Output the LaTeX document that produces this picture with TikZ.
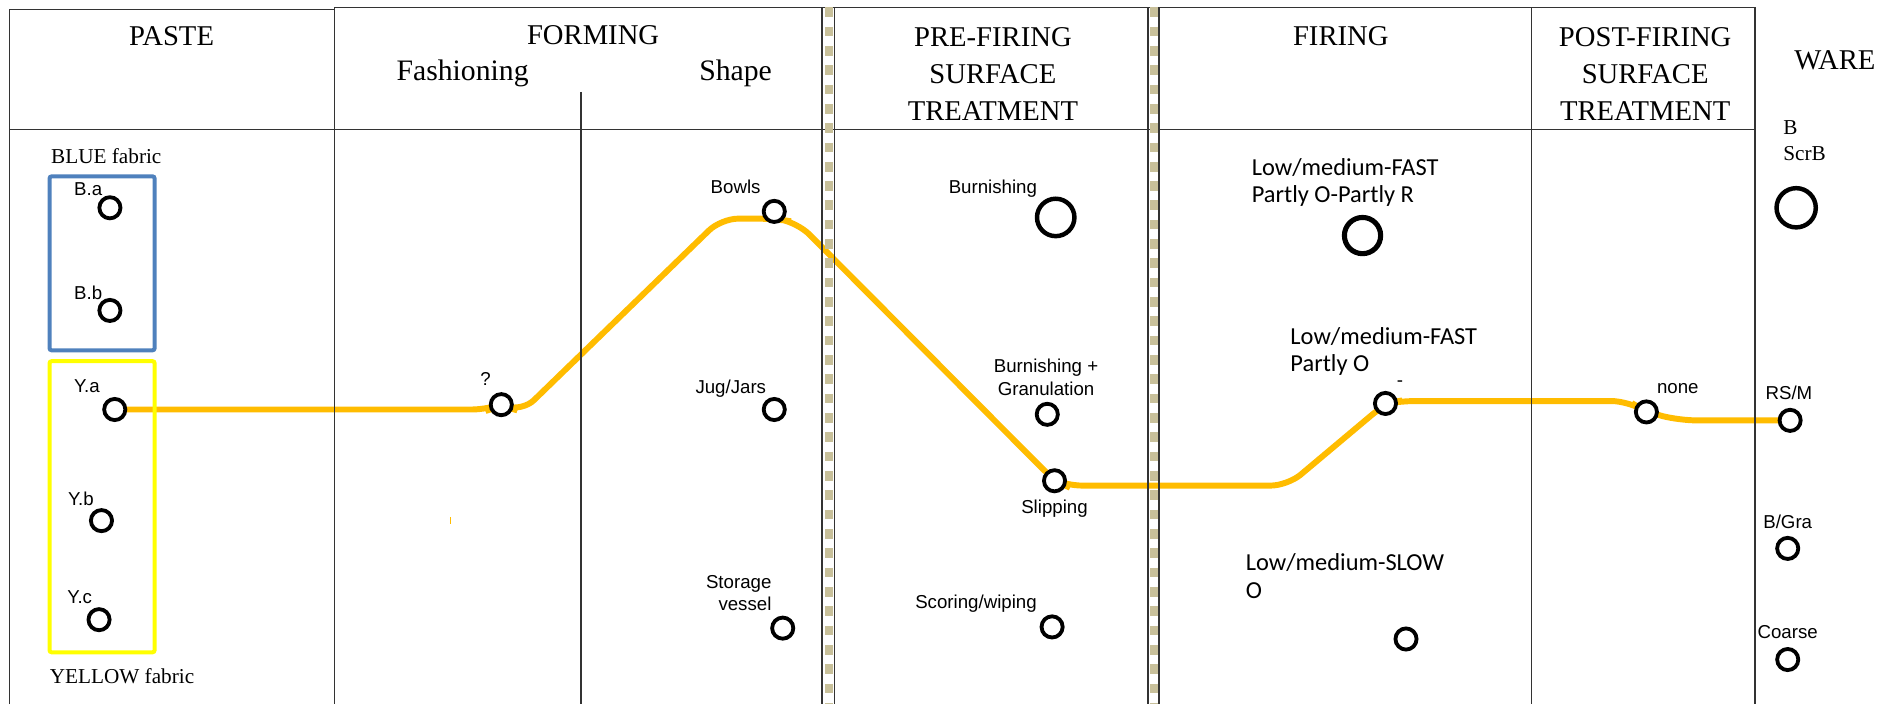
\documentclass[tikz,border=0pt]{standalone}
\usepackage{fontspec}
\setmainfont{Liberation Serif}
\newfontfamily\arialf{Liberation Sans}
\newfontfamily\calif{Carlito}
\definecolor{trackgold}{HTML}{FFBC00}
\definecolor{fabblue}{HTML}{4F81BD}
\definecolor{fabyellow}{HTML}{FFFF00}
\definecolor{sepkhaki}{HTML}{C8C09A}
\pgfdeclarelayer{tracklayer}
\pgfdeclarelayer{gridlayer}
\pgfsetlayers{tracklayer,gridlayer,main}
\tikzset{
  hdr/.style={font=\fontsize{13.5}{17.4}\selectfont, align=center, inner sep=0},
  sub/.style={font=\fontsize{14}{17}\selectfont, inner sep=0},
  lbl/.style={font=\arialf\fontsize{8.8}{10.8}\selectfont, align=center, inner sep=0},
  cal/.style={font=\calif\fontsize{11.5}{13}\selectfont, align=left, inner sep=0, anchor=west},
  tms/.style={font=\fontsize{10}{12}\selectfont, inner sep=0},
  stop/.style={circle, draw=black, fill=white, line width=1.8pt, minimum size=0.35cm, inner sep=0},
  bigstop/.style={stop, minimum size=0.62cm, line width=2.1pt},
  track/.style={draw=trackgold, line width=2.8pt, rounded corners=8pt},
  rule/.style={draw=black!80, line width=0.6pt},
  sepdash/.style={draw=sepkhaki, line width=3.7pt, dash pattern=on 0.16cm off 0.16cm},
  fabric/.style={line width=1.9pt, rounded corners=1pt}
}
\begin{document}
\begin{tikzpicture}[x=0.02cm, y=-0.02cm]
\useasboundingbox (0,0) rectangle (1568,583);

% ---------- table frame ----------
\begin{pgfonlayer}{gridlayer}
  \draw[rule] (8,583) -- (8,8) -- (277,8);
  \draw[rule] (277,6) -- (1453,6);
  \draw[rule] (8,107) -- (1453,107);
  \draw[rule] (277,6) -- (277,583);
  \draw[rule] (481,76) -- (481,583);
  \draw[rule] (1268,6) -- (1268,583);
  \draw[rule] (1453,6) -- (1453,583);
  % dashed double separators
  \draw[rule] (680.5,6) -- (680.5,583);
  \draw[rule] (691,6) -- (691,583);
  \draw[sepdash] (686,6) -- (686,583);
  \draw[rule] (950.5,6) -- (950.5,583);
  \draw[rule] (959.5,6) -- (959.5,583);
  \draw[sepdash] (955.5,6) -- (955.5,583);
\end{pgfonlayer}

% ---------- headers ----------
\node[hdr] (hPaste) at (142,30) {PASTE};
\node[hdr] (hForm) at (491,29) {FORMING};
\node[sub] (hFash) at (383,61) {Fashioning};
\node[sub] (hShape) at (609,61) {Shape};
\node[hdr] (hPre) at (822,61) {PRE-FIRING\\SURFACE\\TREATMENT};
\node[hdr] (hFire) at (1110,30) {FIRING};
\node[hdr] (hPost) at (1362,61) {POST-FIRING\\SURFACE\\TREATMENT};
\node[hdr] (hWare) at (1519,50) {WARE};

% ---------- paste ----------
\node[tms] (tBlue) at (88,129) {BLUE fabric};
\node[tms] (tYellow) at (101,560) {YELLOW fabric};
\draw[fabric, draw=fabblue] (41,146) rectangle (128,290);
\draw[fabric, draw=fabyellow] (41,299) rectangle (128,540);

\node[stop] (Ba) at (91,172) {};
\node[stop] (Bb) at (91,257) {};
\node[stop] (Ya) at (95,339) {};
\node[stop] (Yb) at (84,431) {};
\node[stop] (Yc) at (82,513) {};
\node[lbl] (lBa) at (73,157) {B.a};
\node[lbl] (lBb) at (73,242) {B.b};
\node[lbl] (lYa) at (72,320) {Y.a};
\node[lbl] (lYb) at (67,413) {Y.b};
\node[lbl] (lYc) at (66,494) {Y.c};

% ---------- forming ----------
\node[stop] (q) at (415,335) {};
\node[lbl] (lq) at (402,314) {?};
\node[stop] (Bowls) at (641,175) {};
\node[lbl] (lBowls) at (609,155) {Bowls};
\node[stop] (Jug) at (641,339) {};
\node[lbl] (lJug) at (605,322) {Jug/Jars};
\node[stop] (Store) at (648,520) {};
\node[lbl, align=right, anchor=east] (lStore) at (639,491) {Storage\\vessel};

% ---------- pre-firing surface treatment ----------
\node[bigstop] (Burn) at (874,180) {};
\node[lbl] (lBurn) at (822,156) {Burnishing};
\node[stop] (BurnGr) at (867,343) {};
\node[lbl] (lBurnGr) at (866,312) {Burnishing +\\Granulation};
\node[stop] (Slip) at (873,398) {};
\node[lbl] (lSlip) at (873,421) {Slipping};
\node[stop] (Score) at (871,519) {};
\node[lbl] (lScore) at (808,500) {Scoring/wiping};

% ---------- firing ----------
\node[cal] (lFastR) at (1036,151) {Low/medium-FAST\\Partly O-Partly R};
\node[bigstop, minimum size=0.6cm, line width=2.4pt] (FastR) at (1128,195) {};
\node[cal] (lFastO) at (1068,291) {Low/medium-FAST\\Partly O};
\node[stop] (FastO) at (1147,334) {};
\node[lbl] (lFastOd) at (1159,318) {-};
\node[cal] (lSlow) at (1031,477) {Low/medium-SLOW\\O};
\node[stop] (Slow) at (1164,529) {};

% ---------- post-firing surface treatment ----------
\node[stop] (None) at (1363,341) {};
\node[lbl] (lNone) at (1389,322) {none};

% ---------- ware ----------
\node[tms, anchor=west] (lB) at (1476,106) {B};
\node[tms, anchor=west] (lScrB) at (1476,127) {ScrB};
\node[bigstop, minimum size=0.65cm] (ScrB) at (1487,172) {};
\node[stop] (RSM) at (1482,348) {};
\node[lbl] (lRSM) at (1481,325) {RS/M};
\node[stop] (BGra) at (1480,454) {};
\node[lbl] (lBGra) at (1480,432) {B/Gra};
\node[stop] (Coarse) at (1480,546) {};
\node[lbl] (lCoarse) at (1480,523) {Coarse};

% ---------- production route ----------
\begin{pgfonlayer}{tracklayer}
  \draw[track] (Ya.center) -- (405,339) -- (q.center) -- (432,341)
    -- (597,181) -- (Bowls.center |- 0,181) -- (660,184) -- (Slip.center)
    -- (882,402) -- (1066,402) -- (FastO.center) -- (1158,332)
    -- (1348,332) -- (None.center) -- (1390,348) -- (RSM.center);
  \draw[draw=trackgold, line width=0.8pt] (373,428) -- (373,434);
\end{pgfonlayer}
\end{tikzpicture}
\end{document}
